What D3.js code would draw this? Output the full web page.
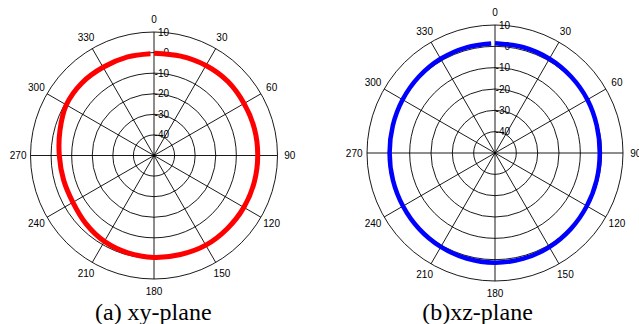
<!DOCTYPE html>
<html>
<head>
<meta charset="utf-8">
<script src="https://cdn.jsdelivr.net/npm/d3@7"></script>
<style>
  html, body { margin: 0; padding: 0; background: #fff; }
  svg { display: block; }
</style>
</head>
<body>
<svg id="chart" width="639" height="324"></svg>
<script>
// ---- data ----
const angles = [0, 15, 30, 45, 60, 75, 90, 105, 120, 135, 150, 165, 180,
                195, 210, 225, 240, 255, 270, 285, 300, 315, 330, 345, 358];
const xyGain = [-0.3, 0.0, 0.5, 0.8, 0.5, 0.5, 0.4, 0.4, 0.4, 0.3, 0.3, -0.2, -0.5,
                -1.0, -1.8, -3.2, -4.5, -4.5, -4.0, -2.7, -0.8, -0.3, -0.5, -0.4, -0.5];
const xzGain = [1.4, 1.3, 1.0, 0.5, 0.0, -0.6, -0.9, -0.7, -0.3, 0.3, 0.9, 1.3, 1.4,
                1.2, 0.8, 0.3, -0.2, -0.5, -0.6, -0.4, 0.0, 0.5, 1.0, 1.3, 1.4];
const ringTicks = [10, 0, -10, -20, -30, -40];
const angleTicks = [0, 30, 60, 90, 120, 150, 180, 210, 240, 270, 300, 330];
const captions = ["(a) xy-plane", "(b)xz-plane"];
const rMin = -50, rMax = 10;

// ---- layout ----
const panels = [
  { cx: 154, cy: 155.5, R: 123.5, gain: xyGain, color: "#ff0000", width: 5, caption: captions[0], capX: 153.3 },
  { cx: 495, cy: 153,   R: 128,   gain: xzGain, color: "#0000ff", width: 4.5, caption: captions[1], capX: 477.5 }
];

const svg = d3.select("#chart");
const aScale = d3.scaleLinear().domain([0, 360]).range([0, 2 * Math.PI]);

panels.forEach(p => {
  const r = d3.scaleLinear().domain([rMin, rMax]).range([0, p.R]);
  const g = svg.append("g").attr("transform", `translate(${p.cx},${p.cy})`);

  // rings
  g.selectAll("circle.ring").data(ringTicks).join("circle")
    .attr("class", "ring")
    .attr("r", d => r(d))
    .attr("fill", "none")
    .attr("stroke", "#000")
    .attr("stroke-width", 0.9);

  // spokes (through the center)
  g.selectAll("line.spoke").data(angleTicks.filter(a => a < 180)).join("line")
    .attr("class", "spoke")
    .attr("x1", d => -p.R * Math.sin(aScale(d)))
    .attr("y1", d => p.R * Math.cos(aScale(d)))
    .attr("x2", d => p.R * Math.sin(aScale(d)))
    .attr("y2", d => -p.R * Math.cos(aScale(d)))
    .attr("stroke", "#000")
    .attr("stroke-width", 0.9);

  // ring labels
  g.selectAll("text.rlab").data(ringTicks).join("text")
    .attr("class", "rlab")
    .attr("x", 15)
    .attr("y", d => -r(d))
    .attr("text-anchor", "end")
    .attr("dominant-baseline", "central")
    .attr("font-family", "Liberation Sans, Arial, sans-serif")
    .attr("font-size", 10)
    .attr("fill", "#000")
    .text(d => d);

  // angle labels
  g.selectAll("text.alab").data(angleTicks).join("text")
    .attr("class", "alab")
    .attr("x", d => 1.1 * p.R * Math.sin(aScale(d)))
    .attr("y", d => -1.1 * p.R * Math.cos(aScale(d)))
    .attr("text-anchor", "middle")
    .attr("dominant-baseline", "central")
    .attr("font-family", "Liberation Sans, Arial, sans-serif")
    .attr("font-size", 10)
    .attr("fill", "#000")
    .text(d => d);

  // pattern
  const pts = angles.map((a, i) => ({ a, v: p.gain[i] }));
  const line = d3.lineRadial()
    .angle(d => aScale(d.a))
    .radius(d => r(d.v))
    .curve(d3.curveCatmullRom);
  g.append("path")
    .datum(pts)
    .attr("d", line)
    .attr("fill", "none")
    .attr("stroke", p.color)
    .attr("stroke-width", p.width);

  // caption
  svg.append("text")
    .attr("x", p.capX)
    .attr("y", 320)
    .attr("text-anchor", "middle")
    .attr("font-family", "Liberation Serif, Times New Roman, serif")
    .attr("font-size", 24)
    .attr("fill", "#000")
    .text(p.caption);
});
</script>
</body>
</html>
